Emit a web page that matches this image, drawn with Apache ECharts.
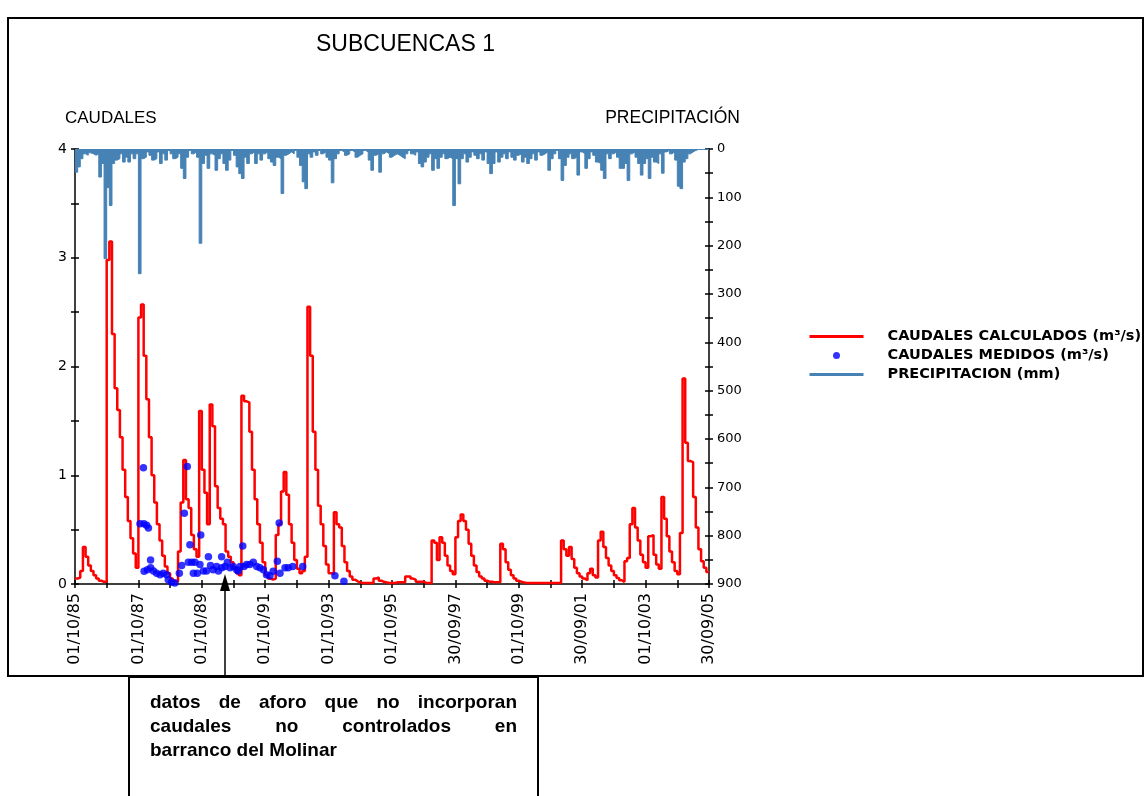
<!DOCTYPE html>
<html>
<head>
<meta charset="utf-8">
<script src="https://cdn.jsdelivr.net/npm/echarts@6/dist/echarts.min.js"></script>
<style>
html,body{margin:0;padding:0;background:#fff;}
#chart{width:1146px;height:796px;}
</style>
</head>
<body>
<div id="chart"></div>
<script>
// Monthly series, October 1985 (index 0) to September 2005 (index 239)
const CAUDALES_CALCULADOS = [
  0.05,0.06,0.12,0.34,0.25,0.17,0.12,0.08,0.05,0.03,0.02,0.02,
  2.98,3.15,2.3,1.8,1.6,1.35,1.05,0.8,0.58,0.42,0.28,0.15,
  2.45,2.57,2.1,1.7,1.35,1.0,0.75,0.55,0.4,0.26,0.16,0.1,
  0.05,0.03,0.02,0.3,0.75,1.14,0.78,0.7,0.45,0.32,0.25,1.59,
  1.05,0.84,0.55,1.65,1.45,0.9,0.7,0.6,0.55,0.3,0.25,0.2,
  0.15,0.1,0.08,1.73,1.68,1.67,1.4,1.05,0.78,0.55,0.38,0.2,
  0.08,0.05,0.04,0.05,0.45,0.55,0.85,1.03,0.82,0.55,0.38,0.22,
  0.14,0.1,0.12,0.25,2.55,2.1,1.4,1.05,0.72,0.55,0.35,0.18,
  0.1,0.09,0.66,0.55,0.52,0.35,0.2,0.12,0.07,0.04,0.025,0.015,
  0.01,0.01,0.01,0.01,0.01,0.05,0.06,0.03,0.02,0.015,0.01,0.01,
  0.01,0.015,0.015,0.015,0.015,0.07,0.07,0.05,0.04,0.02,0.02,0.02,
  0.01,0.01,0.01,0.4,0.38,0.22,0.43,0.38,0.26,0.17,0.12,0.09,
  0.43,0.58,0.64,0.58,0.5,0.37,0.26,0.17,0.11,0.07,0.05,0.03,
  0.02,0.02,0.015,0.015,0.015,0.37,0.32,0.2,0.13,0.08,0.05,0.03,
  0.02,0.015,0.01,0.01,0.01,0.01,0.01,0.01,0.01,0.01,0.01,0.01,
  0.01,0.01,0.01,0.01,0.4,0.32,0.26,0.34,0.23,0.15,0.1,0.07,
  0.05,0.035,0.1,0.14,0.08,0.06,0.4,0.48,0.34,0.24,0.17,0.12,
  0.08,0.055,0.035,0.02,0.21,0.24,0.55,0.7,0.52,0.4,0.27,0.2,
  0.15,0.44,0.45,0.27,0.18,0.14,0.8,0.6,0.44,0.3,0.2,0.12,
  0.09,0.47,1.89,1.3,1.13,1.12,0.8,0.52,0.32,0.21,0.15,0.11
];

const PRECIPITACION = [
  48,37,20,10,13,8,10,13,10,58,30,227,
  80,117,30,23,20,10,27,17,27,10,20,10,
  258,20,17,6,13,23,20,6,30,10,23,3,
  10,20,17,10,40,61,17,3,10,6,17,195,
  30,13,40,10,13,44,20,10,30,44,23,3,
  13,37,51,61,17,30,10,6,30,10,23,10,
  6,20,27,34,17,20,92,13,10,6,10,3,
  17,34,68,82,10,17,6,13,3,10,6,17,
  23,70,20,10,3,6,13,10,3,6,17,13,
  10,3,6,23,44,13,10,48,10,6,10,17,
  13,10,13,17,20,10,3,10,13,6,30,37,
  27,17,10,44,20,40,17,10,20,17,20,117,
  20,72,20,10,27,17,6,13,20,10,23,6,
  30,51,30,6,27,17,10,20,6,17,23,13,
  10,27,17,30,20,10,23,6,13,10,6,44,
  20,10,3,20,65,34,17,10,20,17,54,6,
  10,40,20,6,13,27,30,44,61,10,20,10,
  6,17,40,40,30,65,10,6,17,30,54,30,
  20,61,17,27,30,10,50,6,3,10,6,23,
  77,82,27,20,10,6,3,1,1,1,1,1
];

const MEDIDOS_FECHAS = [
  '1987-10-19','1987-11-28','1987-12-04','1987-12-06','1988-01-04','1988-01-13','1988-01-25',
  '1988-02-19','1988-02-20','1988-03-22','1988-04-28','1988-06-07','1988-07-13','1988-08-22',
  '1988-09-10','1988-10-19','1988-11-25','1989-01-16','1989-02-13','1989-03-13','1989-04-16',
  '1989-04-28','1989-05-16','1989-06-07','1989-06-25','1989-07-13','1989-08-10','1989-09-10',
  '1989-09-19','1989-10-19','1989-11-25','1989-12-16','1990-01-10','1990-02-10','1990-03-19',
  '1990-04-10','1990-05-16','1990-05-18','1990-06-25','1990-07-22','1990-08-22','1990-09-28',
  '1990-11-07','1990-11-25','1990-12-16','1991-01-16','1991-02-01','1991-03-01','1991-04-07',
  '1991-05-16','1991-06-25','1991-08-01','1991-09-10','1991-10-16','1991-11-25','1992-01-01',
  '1992-02-19','1992-03-10','1992-03-19','1992-05-16','1992-06-22','1992-08-13','1992-12-07',
  '1993-12-13','1994-03-25'
];
const MEDIDOS_VALORES = [
  0.555,1.07,0.555,0.117,0.54,0.13,0.515,
  0.22,0.15,0.12,0.10,0.086,0.10,0.086,
  0.04,0.015,0.01,0.10,0.17,0.65,1.08,
  0.2,0.36,0.2,0.1,0.2,0.1,0.18,
  0.45,0.12,0.12,0.25,0.17,0.13,0.16,
  0.12,0.25,0.15,0.16,0.2,0.15,0.16,
  0.13,0.12,0.16,0.35,0.16,0.18,0.18,
  0.2,0.16,0.15,0.13,0.086,0.077,0.117,
  0.21,0.56,0.1,0.15,0.15,0.16,0.16,
  0.077,0.025
];

const X_TICK_LABELS = ['01/10/85','01/10/87','01/10/89','01/10/91','01/10/93','01/10/95',
  '30/09/97','01/10/99','30/09/01','01/10/03','30/09/05'];
const LEFT_AXIS_NAME = 'CAUDALES';
const RIGHT_AXIS_NAME = 'PRECIPITACIÓN';
const TITLE = 'SUBCUENCAS 1';
const SERIES_NAMES = ['CAUDALES CALCULADOS (m\u00b3/s)','CAUDALES MEDIDOS (m\u00b3/s)','PRECIPITACION (mm)'];
const NOTE_LINES = ['datos de aforo que no incorporan','caudales no controlados en','barranco del Molinar'];

// helpers
function monthIndex(s){
  const p = s.split('-').map(Number);
  return (p[0]-1985)*12 + (p[1]-10) + (p[2]-1)/30;
}
function stepData(arr){
  const d = arr.map((v,i)=>[i,v]);
  d.push([arr.length, arr[arr.length-1]]);
  return d;
}

const chart = echarts.init(document.getElementById('chart'), null, {renderer:'canvas'});

// justified note text
const ctx = document.createElement('canvas').getContext('2d');
const NOTE_FONT = 'bold 19px "Liberation Sans", Arial, sans-serif';
ctx.font = NOTE_FONT;
const noteEls = [];
const noteLeft = 150, noteRight = 517, noteTop = 703, noteLH = 24;
NOTE_LINES.forEach((line, li)=>{
  const words = line.split(' ');
  const y = noteTop + li*noteLH;
  if (li === NOTE_LINES.length-1) {
    noteEls.push({type:'text', x: noteLeft, y: y, z: 110,
      style:{text: line, font: NOTE_FONT, fill:'#000', align:'left', verticalAlign:'middle'}});
    return;
  }
  const widths = words.map(w=>ctx.measureText(w).width);
  const total = widths.reduce((a,b)=>a+b,0);
  const gap = (noteRight-noteLeft-total)/(words.length-1);
  let x = noteLeft;
  words.forEach((w,i)=>{
    noteEls.push({type:'text', x: x, y: y, z: 110,
      style:{text: w, font: NOTE_FONT, fill:'#000', align:'left', verticalAlign:'middle'}});
    x += widths[i] + gap;
  });
});

const axisLine = {show:true, lineStyle:{color:'#000', width:1.5}};
const tick = {show:true, length:4, lineStyle:{color:'#000', width:1.5}};
const tickIn = {show:true, inside:true, length:4, lineStyle:{color:'#000', width:1.5}};
const minor = {show:true, splitNumber:2, length:4, lineStyle:{color:'#000', width:1.5}};
const noLine = {show:false};
const noLabel = {show:false};
const GRID_BOX = {left:75, right:437, top:149, bottom:212, containLabel:false};

const option = {
  backgroundColor:'#fff',
  animation:false,
  title:{
    text: TITLE, left: 316, top: 33, padding:0,
    textStyle:{fontFamily:'"Liberation Sans", Arial, sans-serif', fontSize:23, fontWeight:'normal', color:'#000'}
  },
  legend:{
    orient:'vertical', left: 808, top: 329, padding:0,
    itemWidth:54, itemHeight:7, itemGap:4,
    textStyle:{fontFamily:'"DejaVu Sans", sans-serif', fontWeight:'bold', fontSize:14.5, color:'#000',
      padding:[0,0,0,19], lineHeight:15},
    data:[
      {name: SERIES_NAMES[0], lineStyle:{width:3}, itemStyle:{opacity:0}},
      {name: SERIES_NAMES[1], icon:'circle'},
      {name: SERIES_NAMES[2], lineStyle:{width:3}, itemStyle:{opacity:0}}
    ]
  },
  // grid 0 holds the data; grid 1 (same box) only draws the inner halves of the crossing ticks
  grid:[Object.assign({}, GRID_BOX), Object.assign({}, GRID_BOX)],
  xAxis:[
    {gridIndex:0, type:'value', min:0, max:240, interval:24, position:'bottom',
      axisLine: axisLine, axisTick: tick, minorTick: minor,
      splitLine:{show:false}, minorSplitLine:{show:false},
      axisLabel:{rotate:90, margin:9, color:'#000', fontFamily:'"DejaVu Sans", sans-serif', fontSize:16,
        formatter: v => X_TICK_LABELS[Math.round(v/24)] || ''}},
    {gridIndex:1, type:'value', min:0, max:240, interval:24, position:'bottom',
      axisLine: noLine, axisTick: tickIn, minorTick: minor, axisLabel: noLabel,
      splitLine:{show:false}}
  ],
  yAxis:[
    {gridIndex:0, type:'value', min:0, max:4, interval:1, position:'left',
      axisLine: axisLine, axisTick: tick, minorTick: minor,
      splitLine:{show:false},
      axisLabel:{color:'#000', fontFamily:'"DejaVu Sans", sans-serif', fontSize:14, margin:8}},
    {gridIndex:0, type:'value', min:0, max:900, interval:100, position:'right', inverse:true,
      axisLine: axisLine, axisTick: tick, minorTick: minor,
      splitLine:{show:false},
      axisLabel:{color:'#000', fontFamily:'"DejaVu Sans", sans-serif', fontSize:13, margin:8}},
    {gridIndex:1, type:'value', min:0, max:4, interval:1, position:'left',
      axisLine: noLine, axisTick: tickIn, minorTick: minor, axisLabel: noLabel,
      splitLine:{show:false}},
    {gridIndex:1, type:'value', min:0, max:900, interval:100, position:'right', inverse:true,
      axisLine: noLine, axisTick: tickIn, minorTick: minor, axisLabel: noLabel,
      splitLine:{show:false}}
  ],
  series:[
    {name: SERIES_NAMES[2], type:'line', step:'end', xAxisIndex:0, yAxisIndex:1,
      data: stepData(PRECIPITACION), symbol:'none', z:1,
      lineStyle:{color:'#4682b4', width:1}, itemStyle:{color:'#4682b4'},
      areaStyle:{color:'#4682b4', opacity:1}},
    {name: SERIES_NAMES[0], type:'line', step:'end', xAxisIndex:0, yAxisIndex:0,
      data: stepData(CAUDALES_CALCULADOS), symbol:'none', z:2,
      lineStyle:{color:'#ff0000', width:2.5}, itemStyle:{color:'#ff0000'}},
    {name: SERIES_NAMES[1], type:'scatter', xAxisIndex:0, yAxisIndex:0,
      data: MEDIDOS_FECHAS.map((f,i)=>[monthIndex(f), MEDIDOS_VALORES[i]]),
      symbol:'circle', symbolSize:7.5, z:3,
      itemStyle:{color:'#0000ff'}}
  ],
  graphic:[
    {type:'rect', z:100, shape:{x:8, y:18, width:1135, height:658},
      style:{fill:null, stroke:'#000', lineWidth:2}},
    {type:'text', x:65, y:118, z:100,
      style:{text: LEFT_AXIS_NAME, font:'17px "Liberation Sans", Arial, sans-serif', fill:'#000', align:'left', verticalAlign:'middle'}},
    {type:'text', x:740, y:118, z:100,
      style:{text: RIGHT_AXIS_NAME, font:'17.5px "Liberation Sans", Arial, sans-serif', fill:'#000', align:'right', verticalAlign:'middle'}},
    {type:'rect', z:100, shape:{x:129, y:677, width:409, height:140},
      style:{fill:'#fff', stroke:'#000', lineWidth:2}},
    {type:'line', z:105, shape:{x1:225, y1:677, x2:225, y2:588},
      style:{stroke:'#000', lineWidth:1.5}},
    {type:'polygon', z:105, shape:{points:[[225,574],[220,591],[230,591]]},
      style:{fill:'#000'}}
  ].concat(noteEls)
};
chart.setOption(option);
</script>
</body>
</html>
